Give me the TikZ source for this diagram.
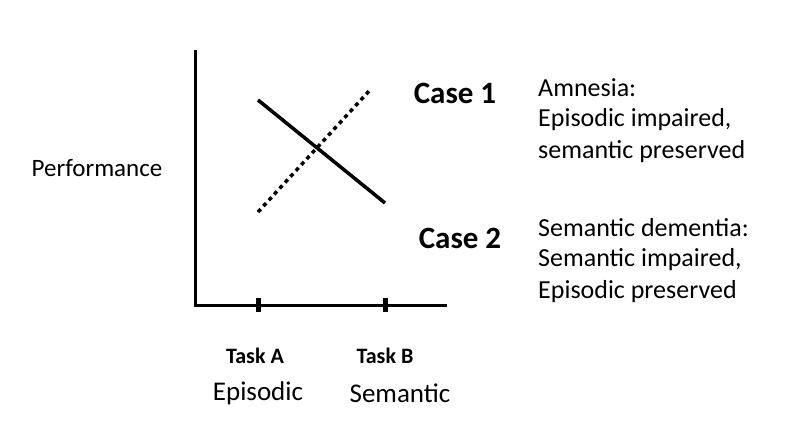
\documentclass[tikz,border=0pt]{standalone}
\usepackage{fontspec}
\setmainfont{Carlito}
\begin{document}
\begin{tikzpicture}[x=1pt,y=-1pt,
  lbl/.style={font=\fontsize{25}{30}\selectfont, inner sep=0pt},
  side/.style={font=\fontsize{26}{30}\selectfont, anchor=west, inner sep=0pt},
  axis/.style={line width=3pt}]
\useasboundingbox (0,0) rectangle (786,422);
\coordinate (top) at (195,50);
\coordinate (org) at (195,305);
\coordinate (xend) at (447,305);
\draw[axis] (top) -- (org) -- (xend);
\draw[line width=5pt] (258,298) -- (258,312);
\draw[line width=5pt] (385,298) -- (385,312);
\coordinate (s1) at (258,100); \coordinate (s2) at (385,203);
\draw[line width=3.5pt] (s1) -- (s2);
\coordinate (d1) at (258,212); \coordinate (d2) at (370,90);
\draw[line width=3.5pt, dash pattern=on 4pt off 4pt] (d1) -- (d2);
\node[lbl] (perf) at (97,168) {Performance};
\node[lbl, font=\fontsize{31}{36}\selectfont\bfseries] (c1) at (455,93) {Case 1};
\node[lbl, font=\fontsize{31}{36}\selectfont\bfseries] (c2) at (460,238) {Case 2};
\node[side] (am1) at (538,88) {Amnesia:};
\node[side] (am2) at (538,120) {Episodic impaired,};
\node[side] (am3) at (538,152) {semantic preserved};
\node[side] (sd1) at (538,228) {Semantic dementia:};
\node[side] (sd2) at (538,260) {Semantic impaired,};
\node[side] (sd3) at (538,292) {Episodic preserved};
\node[lbl, font=\fontsize{22}{26}\selectfont\bfseries] (la) at (255,356) {Task A};
\node[lbl, font=\fontsize{22}{26}\selectfont\bfseries] (lb) at (385,356) {Task B};
\node[lbl, font=\fontsize{27}{32}\selectfont] (ep) at (258,393) {Episodic};
\node[lbl, font=\fontsize{27}{32}\selectfont] (se) at (400,393) {Semantic};
\end{tikzpicture}
\end{document}
